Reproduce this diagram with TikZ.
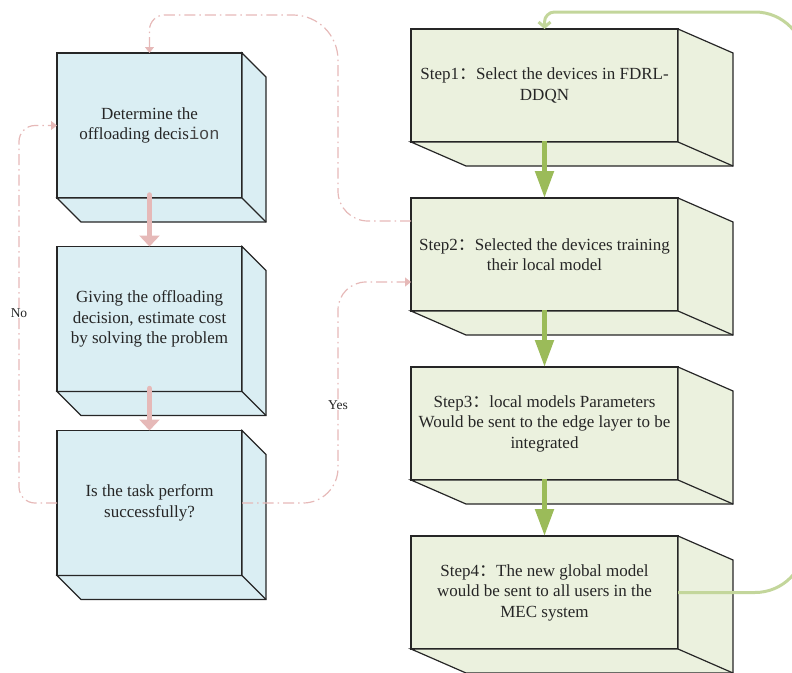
\documentclass[tikz,border=0pt]{standalone}
\usepackage{fontspec}
\setmainfont{Liberation Serif}
\newfontfamily\cjkfont{Noto Sans CJK SC}
\newfontfamily\codefont{Liberation Mono}
\usetikzlibrary{arrows.meta,calc}

\definecolor{bluefill}{HTML}{DAEEF3}
\definecolor{greenfill}{HTML}{EBF1DE}
\definecolor{pinkline}{HTML}{E6B9B8}
\definecolor{greenarrow}{HTML}{9BBB59}
\definecolor{greenloop}{HTML}{C3D69B}
\definecolor{edge}{HTML}{262626}

% full-width colon used after the step numbers
\newcommand\fwcolon{{\cjkfont ：}}

\tikzset{
  face/.style={draw=edge, line width=1.2pt, line join=miter},
  boxtext/.style={align=center, text=edge, font=\fontsize{17}{20.5}\selectfont,
                  inner sep=0pt, outer sep=0pt},
  bluebox/.style={face, boxtext, fill=bluefill, minimum width=185pt, minimum height=145pt},
  greenbox/.style={face, boxtext, fill=greenfill, minimum width=267pt, minimum height=113pt},
  pinkflow/.style={draw=pinkline, line width=5.5pt, line cap=round,
                   -{Triangle[length=11pt,width=20pt]}},
  greenflow/.style={draw=greenarrow, line width=5pt,
                    -{Triangle[length=27pt,width=18pt]}},
  pinkdash/.style={draw=pinkline, line width=1.2pt,
                   dash pattern=on 11pt off 4pt on 1.5pt off 4pt,
                   -{Triangle[length=6pt,width=9pt]}},
  greenreturn/.style={draw=greenloop, line width=3pt,
                      -{Straight Barb[length=5pt,width=12pt]}},
  tag/.style={fill=white, inner sep=1pt, text=edge, font=\fontsize{13.5}{16}\selectfont}
}

% side and bottom faces of a box, pushed out by (dx,dy)
\newcommand\extrude[4]{%
  \filldraw[face, fill=#4] (#1.north east) -- ++(#2,#3)
     -- ($(#1.south east)+(#2,#3)$) -- ($(#1.south west)+(#2,#3)$)
     -- (#1.south west) -- (#1.south east) -- cycle;
  \draw[face] (#1.south east) -- ++(#2,#3);
}

\begin{document}
\begin{tikzpicture}[x=1pt, y=-1pt]
\useasboundingbox (0,0) rectangle (792,672);

% left column: offloading decision loop
\node[bluebox] (b1) at (149.5,125.5) {Determine the\\offloading decis{\codefont\color{edge!85}ion}};
\extrude{b1}{24}{24}{bluefill}
\node[bluebox] (b2) at (149.5,319) {Giving the offloading\\decision, estimate cost\\by solving the problem};
\extrude{b2}{24}{24}{bluefill}
\node[bluebox] (b3) at (149.5,503) {Is the task perform\\successfully?};
\extrude{b3}{24}{24}{bluefill}

% right column: federated training steps
\node[greenbox] (s1) at (544.5,85.5) {Step1\fwcolon Select the devices in FDRL-\\DDQN};
\extrude{s1}{55}{24}{greenfill}
\node[greenbox] (s2) at (544.5,254.5) {Step2\fwcolon Selected the devices training\\their local model};
\extrude{s2}{55}{24}{greenfill}
\node[greenbox] (s3) at (544.5,423.5) {Step3\fwcolon local models Parameters\\Would be sent to the edge layer to be\\integrated};
\extrude{s3}{55}{24}{greenfill}
\node[greenbox] (s4) at (544.5,592.5) {Step4\fwcolon The new global model\\would be sent to all users in the\\MEC system};
\extrude{s4}{55}{24}{greenfill}

% main flow arrows
\draw[pinkflow] ([yshift=3pt]b1.south) -- (b2.north);
\draw[pinkflow] ([yshift=3pt]b2.south) -- (b3.north);
\draw[greenflow] ([yshift=1pt]s1.south) -- (s2.north);
\draw[greenflow] ([yshift=1pt]s2.south) -- (s3.north);
\draw[greenflow] ([yshift=1pt]s3.south) -- (s4.north);

% feedback connectors (corners as quarter-circle curves)
\draw[pinkdash] ([yshift=33.5pt]s2.west)
  -- (368,221) .. controls (351.4,221) and (338,207.6) .. (338,191)
  -- (338,60) .. controls (338,35.1) and (317.9,15) .. (293,15)
  -- (164.5,15) .. controls (156.2,15) and (149.5,21.7) .. (149.5,30)
  -- (b1.north);
\draw[pinkdash] (b3.west)
  -- (35,503) .. controls (26.2,503) and (19,495.8) .. (19,487)
  -- (19,141.5) .. controls (19,132.7) and (26.2,125.5) .. (35,125.5)
  -- (b1.west);
\draw[pinkdash] (b3.east)
  -- (303,503) .. controls (322.3,503) and (338,487.3) .. (338,468)
  -- (338,310) .. controls (338,294.5) and (350.5,282) .. (366,282)
  -- ([yshift=-27.5pt]s2.west);
\node[tag] (no) at (19,313) {No};
\node[tag] (yes) at (338,405) {Yes};

\draw[greenreturn] (s4.east)
  -- (755,592.5) .. controls (782.6,592.5) and (805,570.1) .. (805,542.5)
  -- (805,62) .. controls (805,34.4) and (782.6,12) .. (755,12)
  -- (554.5,12) .. controls (549,12) and (544.5,16.5) .. (544.5,22)
  -- (s1.north);
\end{tikzpicture}
\end{document}
